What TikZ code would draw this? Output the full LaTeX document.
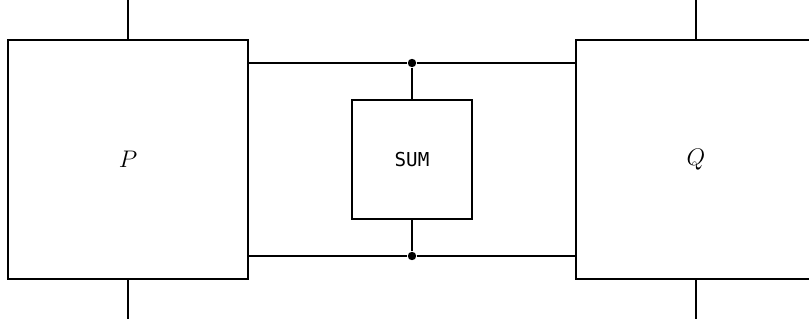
\documentclass[tikz,border=0pt]{standalone}
\usepackage{fontspec}
\newfontfamily\sumfont{DejaVu Sans Mono}
\usetikzlibrary{positioning, calc}

\begin{document}
\begin{tikzpicture}[
    x=0.5pt, y=0.5pt,
    block/.style={rectangle, draw, line width=0.8pt, minimum width=120pt, minimum height=119.5pt, font=\fontsize{12.5}{14}\selectfont},
    sumbox/.style={rectangle, draw, line width=0.8pt, minimum width=60pt, minimum height=59.5pt, font=\sumfont\fontsize{9.6}{12}\selectfont},
    junction/.style={circle, fill, inner sep=0pt, minimum size=4.2pt},
    thinline/.style={line width=0.6pt},
    thickline/.style={line width=1.2pt}
]
\clip (0,0) rectangle (809,327);

% Blocks
\node[block] (P) at (128,167.5) {$P$};
\node[block] (Q) at (696,167.5) {$Q$};
\node[sumbox] (sum) at (412,167.5) {SUM};

% Junctions
\node[junction] (topdot) at (412,264) {};
\node[junction] (botdot) at (412,71) {};

% Free ends
\coordinate (Pin) at (128,340);
\coordinate (Qin) at (696,340);
\coordinate (Pout) at (128,8);
\coordinate (Qout) at (696,8);

% Connectors
\draw[thinline] (Pin) -- (P.north);
\draw[thinline] (Qin) -- (Q.north);
\draw[thickline] (P.south) -- (Pout);
\draw[thickline] (Q.south) -- (Qout);
\draw[thinline] (P.east |- topdot) -- (topdot) -- (Q.west |- topdot);
\draw[thinline] (topdot) -- (sum.north);
\draw[thickline] (P.east |- botdot) -- (botdot) -- (Q.west |- botdot);
\draw[thickline] (sum.south) -- (botdot);

\end{tikzpicture}
\end{document}
